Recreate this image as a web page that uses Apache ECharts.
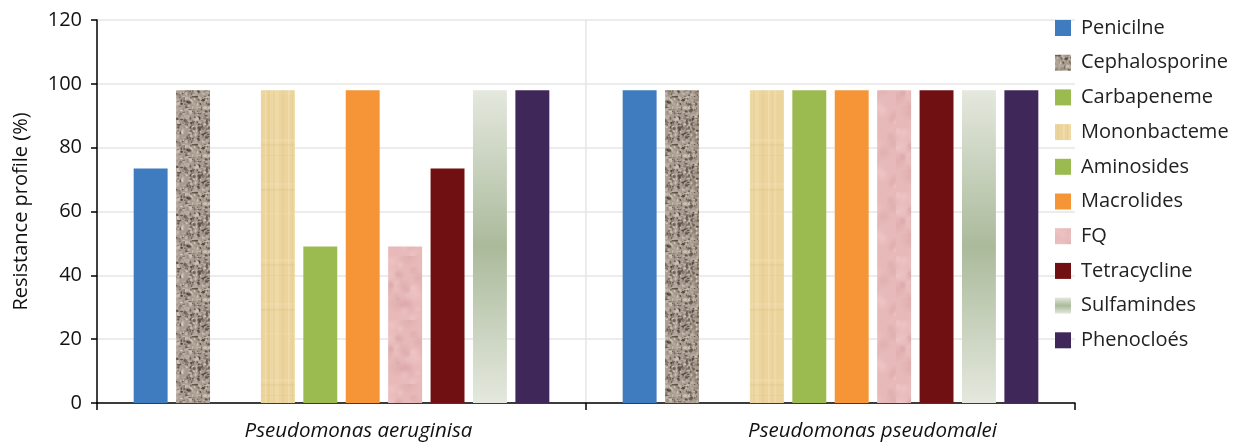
<!DOCTYPE html>
<html>
<head>
<meta charset="utf-8">
<title>Resistance profile</title>
<script src="https://cdn.jsdelivr.net/npm/echarts@6/dist/echarts.min.js"></script>
<style>
  html, body { margin: 0; padding: 0; background: #fff; }
  #chart { width: 1250px; height: 447px; }
</style>
</head>
<body>
<div id="chart"></div>
<script>
// Bacteria (x categories)
const categories = ['Pseudomonas aeruginisa', 'Pseudomonas pseudomalei'];

// Resistance (%) per antibiotic family, one value per category
const penicilne      = [73.5, 98];
const cephalosporine = [98, 98];
const carbapeneme    = [0, 0];
const mononbacteme   = [98, 98];
const aminosides     = [49, 98];
const macrolides     = [98, 98];
const fq             = [49, 98];
const tetracycline   = [73.5, 98];
const sulfamindes    = [98, 98];
const phenocloes     = [98, 98];

const seriesNames = ['Penicilne', 'Cephalosporine', 'Carbapeneme', 'Mononbacteme', 'Aminosides',
                     'Macrolides', 'FQ', 'Tetracycline', 'Sulfamindes', 'Phenocloés'];
const seriesValues = [penicilne, cephalosporine, carbapeneme, mononbacteme, aminosides,
                      macrolides, fq, tetracycline, sulfamindes, phenocloes];

const yTicks = { min: 0, max: 120, step: 20 };

// ---- fill textures (deterministic pseudo-noise) ----
function prng(seed) {
  return function () {
    seed |= 0; seed = (seed + 0x6D2B79F5) | 0;
    let t = Math.imul(seed ^ (seed >>> 15), 1 | seed);
    t = (t + Math.imul(t ^ (t >>> 7), 61 | t)) ^ t;
    return ((t ^ (t >>> 14)) >>> 0) / 4294967296;
  };
}
function makeTile(w, h, draw) {
  const c = document.createElement('canvas');
  c.width = w; c.height = h;
  draw(c.getContext('2d'), w, h);
  return c;
}
// granite-like speckle
const graniteTile = makeTile(48, 48, (ctx, w, h) => {
  const r = prng(11);
  ctx.fillStyle = '#a89c90';
  ctx.fillRect(0, 0, w, h);
  const cols = ['#5b4e43', '#443930', '#d8d0c6', '#c7bdb2', '#8a7d70', '#b9ada0'];
  for (let i = 0; i < 520; i++) {
    ctx.fillStyle = cols[Math.floor(r() * cols.length)];
    ctx.globalAlpha = 0.45 + r() * 0.45;
    ctx.beginPath();
    ctx.ellipse(r() * w, r() * h, 0.6 + r() * 1.3, 0.6 + r() * 1.3, 0, 0, Math.PI * 2);
    ctx.fill();
  }
  ctx.globalAlpha = 1;
});
// papyrus-like weave
const papyrusTile = makeTile(40, 120, (ctx, w, h) => {
  const r = prng(23);
  ctx.fillStyle = '#ecd49e';
  ctx.fillRect(0, 0, w, h);
  for (let i = 0; i < 16; i++) {
    ctx.fillStyle = r() < 0.5 ? 'rgba(224,194,124,0.22)' : 'rgba(246,228,184,0.3)';
    ctx.fillRect(Math.floor(r() * w), 0, 1 + Math.floor(r() * 3), h);
  }
  for (let i = 0; i < 8; i++) {
    ctx.fillStyle = r() < 0.5 ? 'rgba(214,182,112,0.16)' : 'rgba(248,232,190,0.24)';
    ctx.fillRect(0, Math.floor(r() * h), w, 1 + Math.floor(r() * 2));
  }
});
// pink marble blotches
const marbleTile = makeTile(64, 64, (ctx, w, h) => {
  const r = prng(37);
  ctx.fillStyle = '#e8b9b9';
  ctx.fillRect(0, 0, w, h);
  for (let i = 0; i < 40; i++) {
    const x = r() * w, y = r() * h, rad = 3 + r() * 8;
    const g = ctx.createRadialGradient(x, y, 0, x, y, rad);
    const c = r() < 0.5 ? '241,204,204' : '216,164,166';
    g.addColorStop(0, 'rgba(' + c + ',0.5)');
    g.addColorStop(1, 'rgba(' + c + ',0)');
    ctx.fillStyle = g;
    ctx.fillRect(x - rad, y - rad, rad * 2, rad * 2);
  }
});

const fills = [
  '#3f7bbf',
  { image: graniteTile, repeat: 'repeat' },
  '#9bbb50',
  { image: papyrusTile, repeat: 'repeat' },
  '#9bbb50',
  '#f59537',
  { image: marbleTile, repeat: 'repeat' },
  '#711013',
  { type: 'linear', x: 0, y: 0, x2: 0, y2: 1, colorStops: [
      { offset: 0, color: '#e4e8de' },
      { offset: 0.5, color: '#abba9b' },
      { offset: 1, color: '#e4e8de' } ] },
  '#3f2759'
];

const font = '"Open Sans", "Noto Sans", sans-serif';

const chart = echarts.init(document.getElementById('chart'), null, { renderer: 'canvas' });

chart.setOption({
  animation: false,
  backgroundColor: '#ffffff',
  textStyle: { fontFamily: font },
  grid: { left: 97, right: 175, top: 20, bottom: 44, containLabel: false },
  legend: {
    orient: 'vertical',
    left: 1055,
    top: 17,
    padding: 0,
    icon: 'rect',
    itemWidth: 16,
    itemHeight: 16,
    itemGap: 12.7,
    data: seriesNames,
    textStyle: { fontSize: 20, color: '#222', fontFamily: font, lineHeight: 22, padding: [0, 0, 0, 5] }
  },
  xAxis: {
    type: 'category',
    data: categories,
    boundaryGap: true,
    axisLine: { lineStyle: { color: '#000', width: 1.5 } },
    axisTick: { show: true, length: 7, lineStyle: { color: '#000', width: 1.5 } },
    splitLine: {
      show: true,
      showMinLine: false,
      showMaxLine: false,
      lineStyle: { color: '#e6e6e6', width: 1.5 }
    },
    axisLabel: {
      margin: 18,
      fontSize: 20,
      fontStyle: 'italic',
      color: '#111',
      fontFamily: font,
      formatter: (v, i) => '{c' + i + '|' + v + '}',
      rich: {
        c0: { fontSize: 20.5, fontStyle: 'italic', color: '#111', fontFamily: font, padding: [0, 0, 0, 34] },
        c1: { fontSize: 20.5, fontStyle: 'italic', color: '#111', fontFamily: font, padding: [0, 0, 0, 84] }
      }
    }
  },
  yAxis: {
    type: 'value',
    min: yTicks.min,
    max: yTicks.max,
    interval: yTicks.step,
    name: 'Resistance profile (%)',
    nameLocation: 'middle',
    nameGap: 66,
    nameTextStyle: { fontSize: 20, color: '#111', fontFamily: font },
    axisLine: { show: true, lineStyle: { color: '#000', width: 1.5 } },
    axisTick: { show: true, length: 6, lineStyle: { color: '#000', width: 1.5 } },
    axisLabel: { fontSize: 20, color: '#111', margin: 15, fontFamily: font },
    splitLine: { show: true, lineStyle: { color: '#e6e6e6', width: 1.5 } }
  },
  series: seriesNames.map((name, i) => ({
    name: name,
    type: 'bar',
    data: seriesValues[i],
    barGap: '25%',
    barCategoryGap: '15%',
    itemStyle: { color: fills[i] }
  }))
});
</script>
</body>
</html>
